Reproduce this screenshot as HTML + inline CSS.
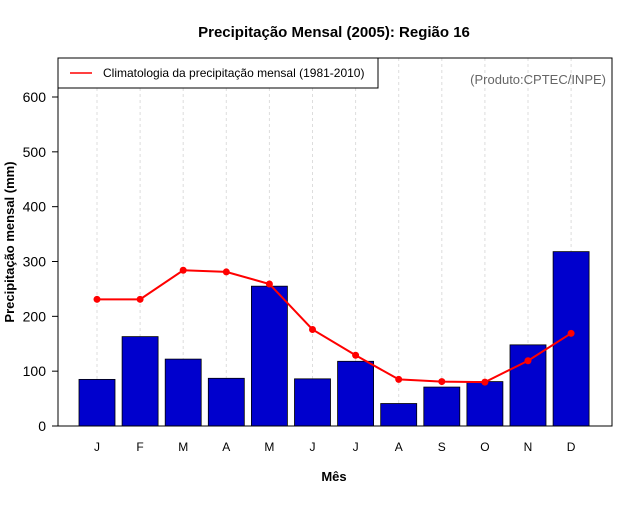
<!DOCTYPE html>
<html><head><meta charset="utf-8"><style>
body{margin:0;background:#fff}
svg{font-family:"Liberation Sans",sans-serif}
</style></head><body>
<svg id="c" width="640" height="500">
<text x="334" y="37" text-anchor="middle" font-size="15" font-weight="bold">Precipitação Mensal (2005): Região 16</text>
<text x="334" y="481" text-anchor="middle" font-size="13" font-weight="bold">Mês</text>
<text transform="translate(14,242) rotate(-90)" text-anchor="middle" font-size="13" font-weight="bold">Precipitação mensal (mm)</text>
<g id="grid"></g><g id="bars"></g><g id="line"></g><g id="axes"></g>
<rect x="58" y="58" width="554" height="368" fill="none" stroke="#000"/>
<g>
<rect x="58" y="58" width="320" height="30" fill="#fff" stroke="#000"/>
<line x1="70" y1="73" x2="92" y2="73" stroke="#f00" stroke-width="1.5"/>
<text x="103" y="77" font-size="12">Climatologia da precipitação mensal (1981-2010)</text>
</g>
<text x="606" y="84" text-anchor="end" font-size="13" fill="#666">(Produto:CPTEC/INPE)</text>
</svg>
<script>
const months=["J","F","M","A","M","J","J","A","S","O","N","D"];
const obs=[85,163,122,87,255,86,118,41,71,81,148,318];
const clim=[231,231,284,281,259,176,129,85,81,80,119,169];
const yTicks=[0,100,200,300,400,500,600];
const NS="http://www.w3.org/2000/svg";
const y=v=>426-v*(329/600);
const x=i=>97+i*43.1;
function mk(t,a,p){const e=document.createElementNS(NS,t);for(const k in a)e.setAttribute(k,a[k]);p.appendChild(e);return e;}
const G=document.getElementById("grid"),B=document.getElementById("bars"),L=document.getElementById("line"),A=document.getElementById("axes");
months.forEach((m,i)=>{
 const g=mk("line",{x1:x(i),x2:x(i),y1:58,y2:426,stroke:"#ddd","stroke-dasharray":"3,3"},G);
 
 
 const r=mk("rect",{x:x(i)-18,y:y(obs[i]),width:36,height:426-y(obs[i]),fill:"#0000cd",stroke:"#000","stroke-width":0.8},B);
 
 
 const t=mk("text",{x:x(i),y:451,"text-anchor":"middle","font-size":12},A);
 t.textContent=m;
 
 
});
const pl=mk("polyline",{points:clim.map((v,i)=>x(i)+","+y(v)).join(" "),fill:"none",stroke:"#f00","stroke-width":2},L);


clim.forEach((v,i)=>{
 const c=mk("circle",{cx:x(i),cy:y(v),r:3.5,fill:"#f00"},L);
 
 
});
yTicks.forEach(v=>{
 mk("line",{x1:52,x2:58,y1:y(v),y2:y(v),stroke:"#000"},A);
 const t=mk("text",{x:46,y:y(v)+5,"text-anchor":"end","font-size":14},A);
 t.textContent=v;
 
 
});
</script>
</body></html>
